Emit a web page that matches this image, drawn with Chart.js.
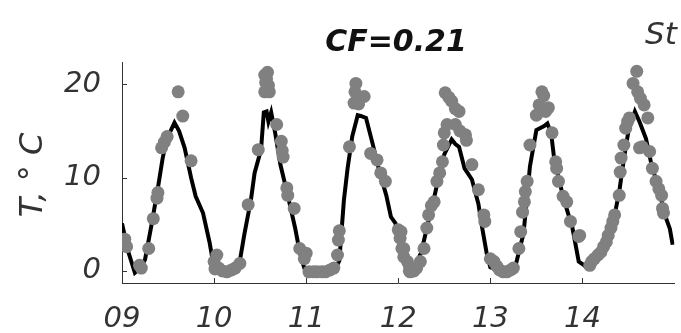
<!DOCTYPE html>
<html>
<head>
<meta charset="utf-8">
<script src="https://cdn.jsdelivr.net/npm/chart.js@4"></script>
<style>
  html, body { margin: 0; padding: 0; background: #fff; }
  #wrap { width: 681px; height: 333px; }
</style>
</head>
<body>
<div id="wrap"><canvas id="chartTemp" width="681" height="333"></canvas></div>
<script>
// model temperature curve (black line), x = day of month
const lineDays = [
  9.00, 9.07, 9.14, 9.20, 9.25, 9.32, 9.39, 9.44, 9.48, 9.57, 9.62, 9.68, 9.75, 9.80, 9.88, 9.95,
  10.00, 10.05, 10.20, 10.27, 10.33, 10.40, 10.44, 10.51, 10.54, 10.57, 10.59, 10.62, 10.66, 10.72, 10.80, 10.88, 10.93, 10.98,
  11.05, 11.20, 11.32, 11.36, 11.41, 11.45, 11.50, 11.56, 11.60, 11.65, 11.72, 11.80, 11.87, 11.92, 11.97, 12.04, 12.08,
  12.12, 12.18, 12.25, 12.32, 12.40, 12.44, 12.50, 12.58, 12.62, 12.66, 12.72, 12.80, 12.87, 12.91, 12.96, 13.00,
  13.05, 13.20, 13.28, 13.36, 13.40, 13.43, 13.50, 13.58, 13.62, 13.66, 13.69, 13.74, 13.79, 13.84, 13.89, 13.96, 14.02,
  14.05, 14.12, 14.22, 14.30, 14.36, 14.40, 14.45, 14.50, 14.57, 14.62, 14.69, 14.75, 14.81, 14.86, 14.91, 14.95, 14.98
];
const lineTemps = [
  5.1, 2.0, -0.2, 0.3, 1.2, 4.9, 8.9, 12.0, 14.0, 15.9, 15.0, 13.2, 10.0, 8.0, 6.2, 3.1,
  0.3, -0.1, 0.0, 0.5, 4.0, 7.6, 10.5, 13.0, 17.0, 17.1, 16.0, 17.0, 15.0, 11.4, 8.1, 4.6, 2.0, 0.3,
  0.1, 0.2, 0.3, 1.1, 7.6, 11.0, 14.4, 16.7, 16.6, 16.4, 13.7, 10.5, 8.1, 5.8, 5.1, 1.5, 0.4,
  0.1, 0.5, 2.0, 5.0, 8.3, 10.1, 12.5, 14.1, 13.6, 13.3, 11.0, 9.8, 7.2, 4.7, 1.9, 0.4,
  0.2, 0.1, 0.8, 4.0, 8.0, 11.2, 15.1, 15.5, 15.8, 14.8, 12.3, 10.0, 8.0, 6.3, 4.7, 1.0, 0.6,
  0.3, 1.0, 2.5, 4.5, 6.5, 8.5, 12.0, 15.0, 17.1, 16.0, 14.2, 11.4, 9.4, 7.5, 5.6, 4.5, 2.8
];

// observed temperatures (grey dots)
const obsDays = [
  9.03, 9.05, 9.19, 9.21, 9.29, 9.34, 9.38, 9.39, 9.43, 9.46, 9.49, 9.61, 9.66, 9.75,
  10.00, 10.01, 10.03, 10.05, 10.09, 10.14, 10.19, 10.23, 10.28, 10.37, 10.48, 10.55, 10.58, 10.56, 10.59, 10.55, 10.60, 10.57,
  10.68, 10.73, 10.74, 10.75, 10.79, 10.80, 10.87, 10.93, 10.98,
  11.00, 11.03, 11.08, 11.12, 11.17, 11.21, 11.26, 11.30, 11.34, 11.35, 11.36, 11.47, 11.52, 11.54, 11.53, 11.63, 11.57,
  11.70, 11.77, 11.81, 11.86, 12.00, 12.02, 12.04, 12.06, 12.12,
  12.03, 12.06, 12.10, 12.13, 12.17, 12.20, 12.24, 12.28, 12.31, 12.33, 12.36, 12.39, 12.42, 12.45, 12.48, 12.49, 12.50, 12.53,
  12.51, 12.55, 12.58, 12.62, 12.66, 12.62, 12.67, 12.73, 12.74, 12.80, 12.87, 12.93, 12.94, 13.00,
  13.04, 13.07, 13.10, 13.14, 13.18, 13.22, 13.25, 13.31, 13.33, 13.35, 13.37, 13.38, 13.40, 13.43, 13.50, 13.53, 13.56, 13.58,
  13.60, 13.63, 13.67, 13.71, 13.72, 13.74, 13.79, 13.83, 13.87, 13.96, 13.97,
  14.08, 14.10, 14.13, 14.17, 14.20, 14.23, 14.26, 14.28, 14.31, 14.33, 14.35, 14.40, 14.41, 14.42, 14.45, 14.47, 14.51, 14.49,
  14.55, 14.59, 14.60, 14.63, 14.67, 14.71, 14.62, 14.65, 14.73, 14.76, 14.80, 14.83, 14.86, 14.87, 14.88
];
const obsTemps = [
  3.4, 2.6, 0.6, 0.3, 2.4, 5.6, 7.8, 8.4, 13.2, 13.8, 14.4, 19.2, 16.6, 11.8,
  1.0, 0.2, 1.7, 0.3, 0.0, -0.1, 0.1, 0.3, 0.8, 7.1, 13.0, 21.0, 21.3, 20.2, 19.9, 19.2, 19.2, 20.6,
  15.7, 13.9, 12.9, 12.2, 8.9, 8.1, 6.7, 2.4, 1.3,
  1.9, -0.1, -0.1, -0.1, -0.1, -0.1, 0.1, 0.3, 1.7, 3.3, 4.3, 13.3, 18.0, 20.1, 19.2, 18.7, 17.9,
  12.6, 11.9, 10.5, 9.6, 4.4, 3.5, 2.4, 1.5, 0.0,
  4.2, 2.4, 1.0, -0.1, 0.0, 0.3, 1.0, 2.4, 4.6, 6.0, 7.0, 7.4, 9.6, 10.5, 11.7, 13.5, 14.8, 15.7,
  19.1, 18.6, 18.2, 17.4, 17.1, 15.7, 15.0, 14.6, 14.0, 11.4, 8.7, 6.0, 5.3, 1.3,
  1.0, 0.5, 0.1, -0.1, -0.1, 0.1, 0.3, 2.4, 4.2, 6.3, 7.4, 8.5, 9.6, 13.5, 16.7, 17.8, 19.2, 18.8,
  17.1, 17.5, 14.8, 11.7, 11.0, 9.6, 8.0, 7.4, 5.3, 3.7, 3.8,
  0.6, 1.0, 1.3, 1.7, 2.0, 2.6, 3.1, 3.8, 4.6, 5.3, 6.0, 8.1, 10.6, 12.1, 13.5, 15.3, 16.4, 16.0,
  20.1, 21.4, 19.2, 18.5, 17.8, 16.4, 13.2, 13.3, 12.8, 11.0, 9.6, 8.8, 8.1, 6.7, 6.2
];

const xTicks = [9, 10, 11, 12, 13, 14];
const yTicks = [0, 10, 20];
const titleText = 'CF=0.21';
const cornerText = 'St';
const yLabel = 'T, \u00b0 C';

const axisColor = '#333333';
const fontFam = '"DejaVu Sans", sans-serif';

// texts and inward tick marks, the way the original plot has them
const extrasPlugin = {
  id: 'extras',
  afterDraw(chart) {
    const ctx = chart.ctx;
    const area = chart.chartArea;
    const xs = chart.scales.x;
    const ys = chart.scales.y;
    ctx.save();
    ctx.strokeStyle = axisColor;
    ctx.lineWidth = 1;
    ctx.beginPath();
    xTicks.forEach(v => {
      const px = Math.round(xs.getPixelForValue(v)) + 0.5;
      ctx.moveTo(px, area.bottom);
      ctx.lineTo(px, area.bottom - 5);
    });
    yTicks.forEach(v => {
      const py = Math.round(ys.getPixelForValue(v)) + 0.5;
      ctx.moveTo(area.left, py);
      ctx.lineTo(area.left + 5, py);
    });
    ctx.stroke();

    ctx.fillStyle = '#111';
    ctx.textAlign = 'center';
    ctx.textBaseline = 'alphabetic';
    ctx.font = 'italic bold 30px ' + fontFam;
    ctx.fillText(titleText, 396, 51);

    ctx.fillStyle = axisColor;
    ctx.textAlign = 'left';
    ctx.font = 'italic 31px ' + fontFam;
    ctx.fillText(cornerText, 645, 44);

    ctx.font = 'italic 32px ' + fontFam;
    ctx.translate(34, 175);
    ctx.rotate(-Math.PI / 2);
    ctx.textAlign = 'center';
    ctx.textBaseline = 'middle';
    ctx.fillText(yLabel, 0, 0);
    ctx.restore();
  }
};

const chartDoc = document.getElementById('chartTemp');
new Chart(chartDoc, {
  type: 'scatter',
  data: {
    datasets: [
      {
        label: 'obs',
        data: obsDays.map((d, i) => ({ x: d, y: obsTemps[i] })),
        backgroundColor: '#808080',
        borderWidth: 0,
        pointRadius: 6.5,
        order: 0,
      },
      {
        label: 'model',
        type: 'line',
        data: lineDays.map((d, i) => ({ x: d, y: lineTemps[i] })),
        borderColor: '#000000',
        borderWidth: 4,
        pointRadius: 0,
        tension: 0,
        order: 1,
      },
    ],
  },
  options: {
    responsive: false,
    animation: false,
    devicePixelRatio: 1,
    layout: { padding: { top: 62, right: 4, left: 0, bottom: 0 } },
    plugins: {
      legend: { display: false },
      tooltip: { enabled: false },
    },
    scales: {
      x: {
        type: 'linear',
        min: 9,
        max: 15,
        afterBuildTicks: scale => { scale.ticks = xTicks.map(v => ({ value: v })); },
        afterFit: scale => { scale.height = 50; },
        grid: { display: false },
        border: { display: true, color: axisColor, width: 1 },
        ticks: {
          color: axisColor,
          padding: 11,
          maxRotation: 0,
          font: { family: fontFam, size: 29, style: 'italic' },
          callback: v => String(v).padStart(2, '0'),
        },
      },
      y: {
        min: -1.3,
        max: 22.4,
        afterBuildTicks: scale => { scale.ticks = yTicks.map(v => ({ value: v })); },
        afterFit: scale => { scale.width = 122; },
        grid: { display: false },
        border: { display: true, color: axisColor, width: 1 },
        ticks: {
          color: axisColor,
          padding: 13,
          font: { family: fontFam, size: 29, style: 'italic' },
        },
      },
    },
  },
  plugins: [extrasPlugin],
});
</script>
</body>
</html>
